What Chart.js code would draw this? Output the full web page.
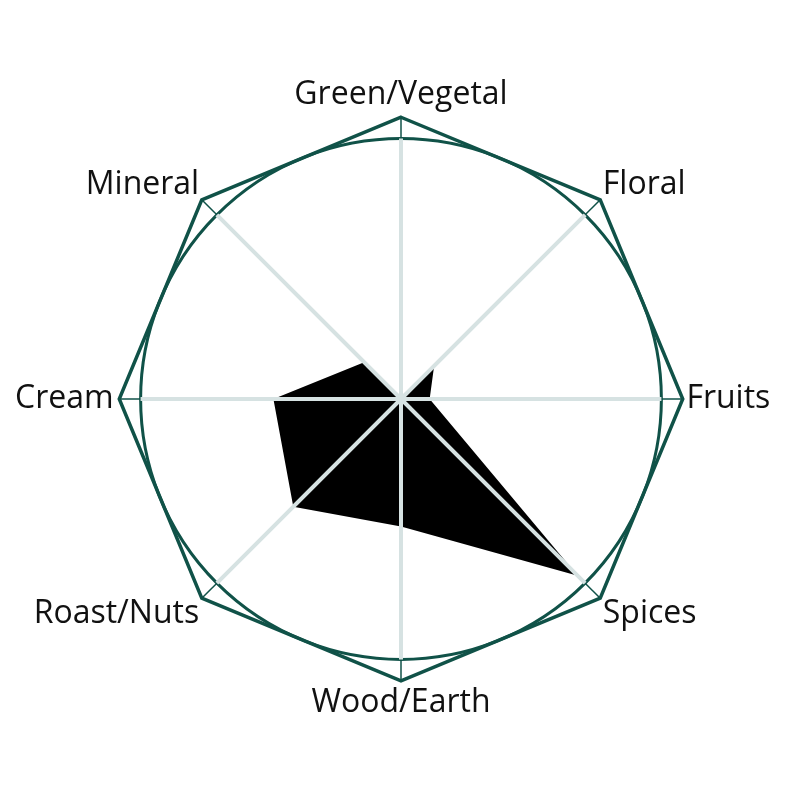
<!DOCTYPE html>
<html lang="en">
<head>
    <meta charset="UTF-8">
    <title>Flavor Profile</title>
    <script src="https://cdn.jsdelivr.net/npm/chart.js"></script>
    <style>
        html, body { margin: 0; padding: 0; background: #fff; }
        #wrap { width: 800px; height: 800px; position: relative; }
    </style>
</head>
<body>
    <div id="wrap"><canvas id="flavorChart"></canvas></div>

    <script>
        // Flavor wheel data (scale 0 - 10)
        const categories = ["Green/Vegetal", "Floral", "Fruits", "Spices", "Wood/Earth", "Roast/Nuts", "Cream", "Mineral"];
        const scores = [0.1, 1.8, 1.1, 9.6, 4.9, 5.85, 4.9, 2.0];
        // outer octagon frame, a bit beyond the circle at 10
        const frame = [10.82, 10.82, 10.82, 10.82, 10.82, 10.82, 10.82, 10.82];

        const darkGreen = "#105248";
        const spokeColor = "#d6e2e2";

        // label gap per direction: top, diagonals, sides, bottom
        function labelPadding(c) {
            const i = c.index;
            if (i === 0 || i === 4) return 31;
            if (i === 2) return 25;
            if (i === 6) return 27;
            return 25;
        }

        const ctx = document.getElementById("flavorChart").getContext("2d");
        new Chart(ctx, {
            type: "radar",
            data: {
                labels: categories,
                datasets: [
                    {
                        label: "Profile",
                        data: scores,
                        backgroundColor: "#000",
                        borderWidth: 0,
                        fill: true,
                        pointRadius: 0
                    },
                    {
                        label: "Frame",
                        data: frame,
                        fill: false,
                        borderColor: darkGreen,
                        borderWidth: 3.5,
                        // short spokes from each corner back to the circle
                        pointStyle: "dash",
                        pointRadius: 22,
                        pointBorderWidth: 1.5,
                        pointBorderColor: darkGreen,
                        pointRotation: c => c.dataIndex * 45 + 90
                    }
                ]
            },
            options: {
                responsive: true,
                maintainAspectRatio: false,
                animation: false,
                layout: { padding: { left: 7, right: 20, top: 0, bottom: 0 } },
                plugins: {
                    legend: { display: false },
                    tooltip: { enabled: false }
                },
                scales: {
                    r: {
                        min: 0,
                        max: 10,
                        afterBuildTicks: axis => { axis.ticks = [{ value: 0 }, { value: 10 }]; },
                        ticks: { display: false, z: 1 },
                        grid: { circular: true, color: darkGreen, lineWidth: 3, z: 1 },
                        angleLines: { color: spokeColor, lineWidth: 4 },
                        pointLabels: {
                            color: "#111",
                            padding: labelPadding,
                            font: { family: "'Open Sans'", size: 32, lineHeight: 0.8 }
                        }
                    }
                }
            }
        });
    </script>
</body>
</html>
